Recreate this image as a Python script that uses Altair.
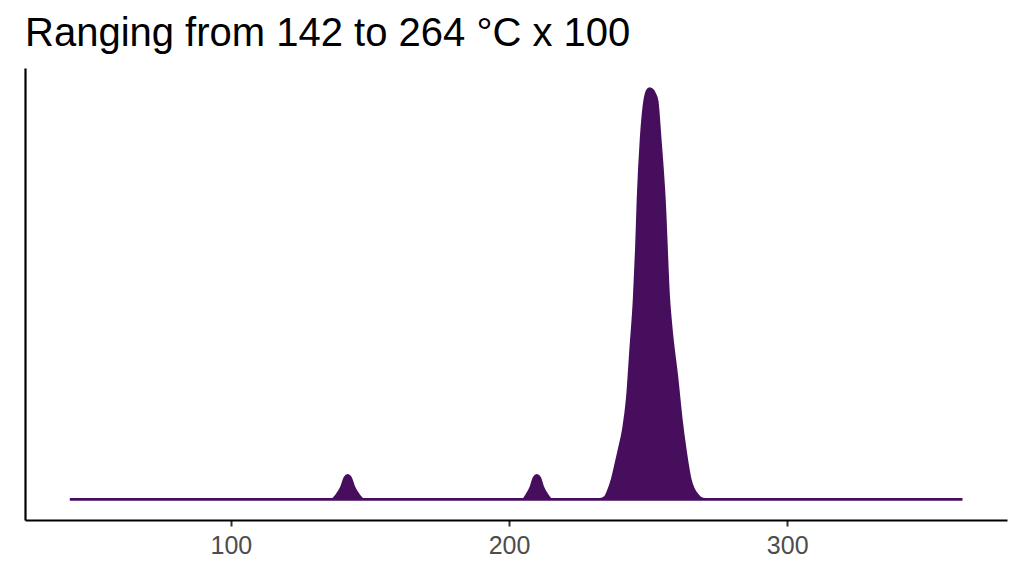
import altair as alt
import pandas as pd

# Curve (x in data units, y relative density, peak = 1)
xs = [42.1, 136.5, 138.0, 139.8, 141.0, 142.0, 143.0, 144.2, 146.0, 147.5,
      205.0, 206.3, 207.9, 209.0, 210.0, 211.0, 212.1, 213.8, 215.2,
      232.7, 234.5, 235.6, 237.1, 238.7, 239.6, 241.1, 242.5, 243.8, 245.0, 245.8,
      246.4, 247.5, 248.9, 249.7, 250.5, 251.4, 252.3, 253.2, 254.3, 255.8,
      257.4, 258.3, 260.4, 261.9, 263.3, 265.1, 266.3, 267.6, 268.7, 270.5,
      363.0]
ys = [0.0, 0.0, 0.010, 0.030, 0.053, 0.0585, 0.053, 0.030, 0.010, 0.0,
      0.0, 0.010, 0.030, 0.053, 0.0585, 0.053, 0.030, 0.010, 0.0,
      0.0, 0.005, 0.0195, 0.049, 0.095, 0.122, 0.170, 0.244, 0.370, 0.488, 0.610,
      0.732, 0.878, 0.976, 0.995, 1.0, 0.997, 0.988, 0.970, 0.878, 0.732,
      0.488, 0.415, 0.293, 0.195, 0.122, 0.049, 0.025, 0.012, 0.004, 0.0,
      0.0]

title_text = "Ranging from 142 to 264 °C x 100"
x_ticks = [100, 200, 300]
color = "#470E5E"

df = pd.DataFrame({"x": xs, "y": ys})

chart = alt.Chart(df).mark_area(
    color=color, stroke=color, strokeWidth=2.8, interpolate="monotone"
).encode(
    x=alt.X("x:Q", scale=alt.Scale(domain=[26, 379], nice=False, zero=False),
            axis=alt.Axis(values=x_ticks, title=None, grid=False,
                          domainColor="black", domainWidth=2.2,
                          tickColor="#333333", tickWidth=2, tickSize=6,
                          labelPadding=7, labelFontSize=25, labelColor="#4D4D4D",
                          labelFont="Liberation Sans")),
    y=alt.Y("y:Q", scale=alt.Scale(domain=[-0.05, 1.05], nice=False, zero=False),
            axis=alt.Axis(title=None, labels=False, ticks=False, grid=False,
                          domainColor="black", domainWidth=2.2)),
    y2=alt.datum(0),
).properties(
    width=982, height=452,
    title=alt.TitleParams(title_text, anchor="start", frame="group",
                          baseline="alphabetic", offset=23, dy=41, fontSize=40,
                          font="Liberation Sans", fontWeight="normal",
                          color="black"),
    autosize=alt.AutoSizeParams(type="none"),
    padding={"left": 17, "top": 60, "right": 9, "bottom": 48},
).configure_view(stroke=None)

chart.save("out.html", embed_options={"renderer": "svg", "actions": False})
